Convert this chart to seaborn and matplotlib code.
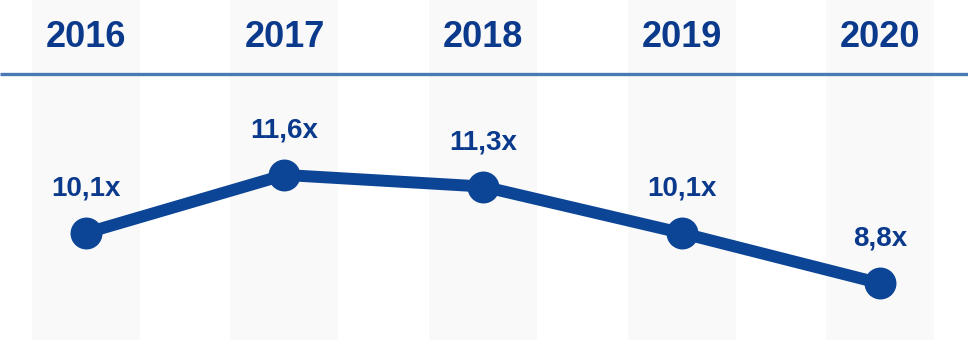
import matplotlib
matplotlib.use("Agg")
import matplotlib.pyplot as plt
import seaborn as sns
import pandas as pd

years = ["2016", "2017", "2018", "2019", "2020"]
values = [10.1, 11.6, 11.3, 10.1, 8.8]
labels = ["10,1x", "11,6x", "11,3x", "10,1x", "8,8x"]

sns.set_style("white")
plt.rcParams['font.family'] = ['Liberation Sans', 'DejaVu Sans']

df = pd.DataFrame({"pos": range(len(years)), "value": values})

fig = plt.figure(figsize=(9.68, 3.4), dpi=100)
ax = fig.add_axes([0, 0, 1, 1])

line_color = "#0c4595"
text_color = "#0b3a8c"

for i in range(len(years)):
    ax.axvspan(i - 0.272, i + 0.272, color="#f9f9f9", zorder=0, lw=0)

sns.lineplot(data=df, x="pos", y="value", ax=ax, color=line_color, lw=8.6,
             marker="o", markersize=23, markeredgewidth=0, zorder=3)

for i, (v, lab) in enumerate(zip(values, labels)):
    ax.annotate(lab, (i, v), xytext=(0, 32), textcoords="offset points",
                ha="center", va="center", fontsize=20, fontweight="bold",
                color=text_color)
    ax.text(i, 0.891, years[i], transform=ax.get_xaxis_transform(),
            ha="center", va="center", fontsize=26, fontweight="bold",
            color=text_color)

ax.plot([0, 1], [0.782, 0.782], transform=ax.transAxes, color="#4a7ab5",
        lw=2.4, zorder=2, solid_capstyle="butt")

ax.set_xlim(-0.433, 4.443)
ax.set_ylim(7.335, 16.12)
ax.axis("off")

fig.savefig("out.png", dpi=100)
